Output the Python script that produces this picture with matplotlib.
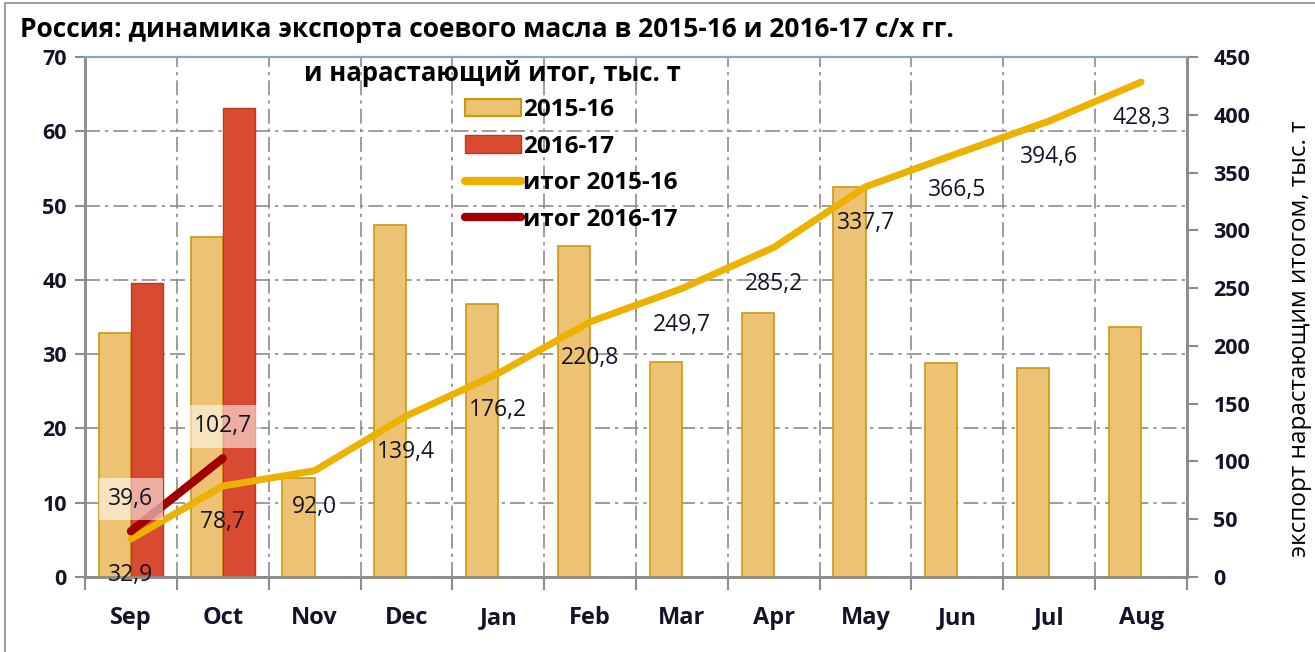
import matplotlib
matplotlib.use("Agg")
import matplotlib.pyplot as plt
from matplotlib.patches import Rectangle
from matplotlib.lines import Line2D
from matplotlib.patches import Patch
import numpy as np

plt.rcParams['font.family'] = ['Open Sans', 'DejaVu Sans']

# ---- data ----
months = ['Sep', 'Oct', 'Nov', 'Dec', 'Jan', 'Feb', 'Mar', 'Apr', 'May', 'Jun', 'Jul', 'Aug']
export_1516 = [32.9, 45.8, 13.3, 47.4, 36.8, 44.6, 28.9, 35.5, 52.5, 28.8, 28.1, 33.7]
export_1617 = [39.6, 63.1]
cum_1516 = [32.9, 78.7, 92.0, 139.4, 176.2, 220.8, 249.7, 285.2, 337.7, 366.5, 394.6, 428.3]
cum_1617 = [39.6, 102.7]
left_ticks = [0, 10, 20, 30, 40, 50, 60, 70]
right_ticks = [0, 50, 100, 150, 200, 250, 300, 350, 400, 450]

title1 = "Россия: динамика экспорта соевого масла в 2015-16 и 2016-17 с/х гг."
title2 = "и нарастающий итог, тыс. т"
right_label = "экспорт нарастающим итогом, тыс. т"
labels = ['2015-16', '2016-17', 'итог 2015-16', 'итог 2016-17']

# ---- style ----
W, H = 1315, 652
C_BAR1, E_BAR1 = '#EDC272', '#C9990F'
C_BAR2, E_BAR2 = '#D84B30', '#B83A22'
C_LINE1, C_LINE2 = '#EDB100', '#A00000'
TXT = '#141428'
GRID = '#8C8C8C'

fig = plt.figure(figsize=(W / 100, H / 100), dpi=100)
ax = fig.add_axes([85 / W, 1 - 577 / H, (1187 - 85) / W, (577 - 57) / H])
ax2 = ax.twinx()

x = np.arange(len(months))
bw = 0.35
ax.bar(x - bw / 2, export_1516, width=bw, color=C_BAR1, edgecolor=E_BAR1, linewidth=1.2, zorder=3)
ax.bar(x[:len(export_1617)] + bw / 2, export_1617, width=bw, color=C_BAR2, edgecolor=E_BAR2, linewidth=1.0, zorder=3)

ax.set_xlim(-0.5, len(months) - 0.5)
ax.set_ylim(0, 70)
ax.set_yticks(left_ticks)
ax.set_xticks(x)
ax.set_xticklabels(months)
ax.set_xticks(np.arange(len(months) + 1) - 0.5, minor=True)
ax.tick_params(axis='x', which='major', length=0, pad=21)
ax.tick_params(axis='x', which='minor', length=9, width=1.5, color=GRID, direction='out')
ax.tick_params(axis='y', length=7, width=1.5, color=GRID, direction='out', pad=6)
for lab in ax.get_xticklabels():
    lab.set_fontweight('bold'); lab.set_fontsize(17); lab.set_color(TXT)
for lab in ax.get_yticklabels():
    lab.set_fontweight('bold'); lab.set_fontsize(15.5); lab.set_color(TXT)

ax.grid(True, axis='y', which='major', color=GRID, linewidth=1.2, linestyle=(0, (9, 3, 2, 3)), zorder=0)
ax.grid(True, axis='x', which='minor', color=GRID, linewidth=1.2, linestyle=(0, (9, 3, 2, 3)), zorder=0)
ax.set_axisbelow(True)

ax2.set_ylim(0, 450)
ax2.set_yticks(right_ticks)
ax2.tick_params(axis='y', length=8, width=1.5, color=GRID, direction='out', pad=11)
for lab in ax2.get_yticklabels():
    lab.set_fontweight('bold'); lab.set_fontsize(15.5); lab.set_color(TXT)

ax2.plot(x, cum_1516, color=C_LINE1, linewidth=5, solid_capstyle='round', solid_joinstyle='round', zorder=5)
ax2.plot(x[:len(cum_1617)], cum_1617, color=C_LINE2, linewidth=6, solid_capstyle='round', solid_joinstyle='round', zorder=6)

fmt = lambda v: f"{v:.1f}".replace('.', ',')
for xi, v in zip(x, cum_1516):
    ax2.annotate(fmt(v), (xi, v), xytext=(0, -26), textcoords='offset points',
                 ha='center', va='center', fontsize=16.5, color=TXT, zorder=7)
for xi, v in zip(x[:len(cum_1617)], cum_1617):
    ax2.annotate(fmt(v), (xi, v), xytext=(0, 23), textcoords='offset points',
                 ha='center', va='center', fontsize=16.5, color=TXT, zorder=7,
                 bbox=dict(boxstyle='square,pad=0.4', fc='white', ec='none', alpha=0.55))

for a in (ax, ax2):
    for s in ('left', 'right', 'bottom'):
        a.spines[s].set_color(GRID)
        a.spines[s].set_linewidth(1.8)
    a.spines['top'].set_color('#7EA6D8')
    a.spines['top'].set_linewidth(1.5)

# titles
fig.text(20 / W, 1 - 37 / H, title1, fontsize=19, fontweight='bold', color='black', va='baseline', ha='left')
fig.text(492 / W, 1 - 81 / H, title2, fontsize=18.5, fontweight='bold', color='black', va='baseline', ha='center')
fig.text(1300 / W, 1 - 339 / H, right_label, fontsize=17.5, color='black', rotation=90, ha='center', va='center')

# legend
handles = [Patch(facecolor=C_BAR1, edgecolor=E_BAR1, linewidth=1.5),
           Patch(facecolor=C_BAR2, edgecolor=E_BAR2, linewidth=1.0),
           Line2D([], [], color=C_LINE1, linewidth=6, solid_capstyle='round'),
           Line2D([], [], color=C_LINE2, linewidth=6, solid_capstyle='round')]
leg = fig.legend(handles, labels, loc='upper left', bbox_to_anchor=(465 / W, 1 - 98 / H),
                 bbox_transform=fig.transFigure, frameon=False, borderpad=0, borderaxespad=0,
                 handlelength=2.3, handleheight=0.75, handletextpad=0.1, labelspacing=0.52,
                 prop=dict(size=17.5, weight='bold'))
for t in leg.get_texts():
    t.set_color('black')

# outer frame
fig.patches.append(Rectangle((5 / W, -0.05), 1.2, 1.05 - 3 / H, transform=fig.transFigure,
                             fill=False, edgecolor='#A0A0A0', linewidth=1.5))

fig.savefig('out.png', dpi=100)
